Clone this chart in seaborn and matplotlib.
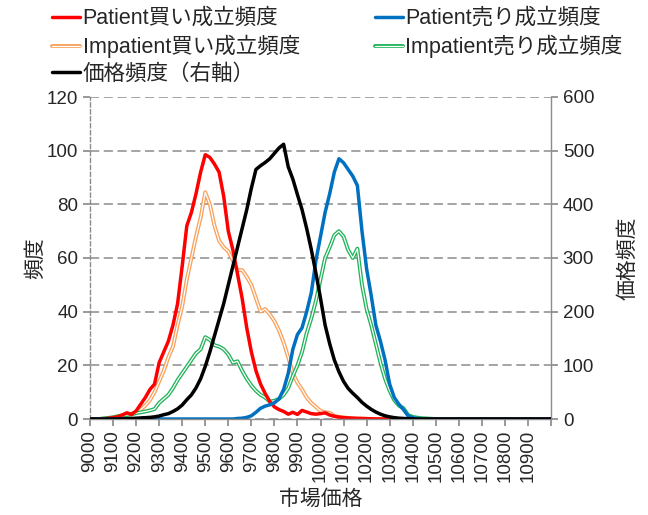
import numpy as np
import pandas as pd
import matplotlib
matplotlib.use("Agg")
import matplotlib.pyplot as plt
import matplotlib.patheffects as pe
import seaborn as sns

sns.set_theme(style="white")
plt.rcParams['font.family'] = ['Liberation Sans', 'Noto Sans CJK JP', 'DejaVu Sans']

# market price (x), step 20
price = list(range(9000, 11001, 20))

patient_buy = [0, 0, 0, 0, 0.3, 0.5, 0.8, 1.5, 2.3, 1.7,
               3, 5.5, 8, 11, 13, 21, 25, 29, 35, 43,
               57, 72, 77, 84, 92, 98.5, 97.5, 95, 92, 83,
               70, 63, 54, 45, 34, 25, 18, 13, 9.5, 6.5,
               4.5, 3.5, 2.8, 1.8, 2.5, 1.7, 3.2, 2.6, 2, 1.8,
               2, 2.3, 1.5, 1, 0.7, 0.5, 0.4, 0.3, 0.2, 0.2,
               0.1, 0.1, 0, 0, 0, 0, 0, 0, 0, 0,
               0, 0, 0, 0, 0, 0, 0, 0, 0, 0,
               0, 0, 0, 0, 0, 0, 0, 0, 0, 0,
               0, 0, 0, 0, 0, 0, 0, 0, 0, 0, 0]

impatient_buy = [0, 0, 0, 0.2, 0.4, 0.6, 1, 1.3, 1.5, 2,
                 2.5, 3.5, 5, 7, 10, 14, 18, 23, 27, 35,
                 42, 52, 60, 68, 75, 84.5, 80, 72, 66.5, 64,
                 62.5, 59, 55.5, 55.5, 53, 50, 45, 40, 41, 39,
                 36.5, 33, 28.5, 23, 17, 13.5, 11, 8, 6, 4.5,
                 3, 2.5, 2.3, 1.2, 0.8, 0.6, 0.4, 0.3, 0.2, 0.1,
                 0.1, 0, 0, 0, 0, 0, 0, 0, 0, 0,
                 0, 0, 0, 0, 0, 0, 0, 0, 0, 0,
                 0, 0, 0, 0, 0, 0, 0, 0, 0, 0,
                 0, 0, 0, 0, 0, 0, 0, 0, 0, 0, 0]

patient_sell = [0, 0, 0, 0, 0, 0, 0, 0, 0, 0,
                0, 0, 0, 0, 0, 0, 0, 0, 0, 0,
                0, 0, 0, 0, 0, 0, 0, 0, 0, 0,
                0, 0, 0.2, 0.3, 0.6, 1.2, 2.5, 4, 4.8, 5.3,
                6, 7.5, 11, 17, 26, 31.5, 34, 40, 47, 59,
                68, 77, 84, 92, 97, 95.5, 93, 90.5, 87, 70,
                56, 46, 35, 29, 22, 13, 8, 5.5, 3.5, 1.2,
                0.5, 0.2, 0, 0, 0, 0, 0, 0, 0, 0,
                0, 0, 0, 0, 0, 0, 0, 0, 0, 0,
                0, 0, 0, 0, 0, 0, 0, 0, 0, 0, 0]

impatient_sell = [0, 0, 0, 0.2, 0.4, 0.6, 1, 1.3, 1.5, 1.7,
                  2.2, 2.5, 2.8, 3.2, 3.7, 6, 7.5, 9, 11.5, 14.5,
                  17, 19.5, 22, 24.5, 26, 30.5, 29.5, 27.5, 27, 26,
                  24, 21, 21.5, 18, 15, 12.5, 10.5, 9, 8, 6.5,
                  6.8, 7.5, 9, 11.5, 16, 20, 25, 32, 37.5, 44,
                  52, 60, 64, 68.5, 70, 68, 63, 60, 63.5, 50,
                  41, 35, 28, 21, 15, 10.5, 7, 5, 4, 1.5,
                  0.8, 0.5, 0.3, 0.2, 0.1, 0, 0, 0, 0, 0,
                  0, 0, 0, 0, 0, 0, 0, 0, 0, 0,
                  0, 0, 0, 0, 0, 0, 0, 0, 0, 0, 0]

price_freq = [0, 0, 0, 0, 0, 0, 0, 0.3, 0.6, 1,
              1.5, 2, 2.5, 3, 4, 5.5, 8, 10, 14, 19,
              26, 36, 45, 58, 75, 98, 125, 155, 185, 215,
              250, 285, 320, 355, 390, 430, 465, 472, 478, 485,
              495, 505, 512, 470, 447, 418, 390, 355, 316, 272,
              225, 175, 140, 110, 88, 70, 57, 48, 40, 31,
              24, 18, 13, 9, 6, 4, 2.5, 1.5, 1, 0.5,
              0.3, 0, 0, 0, 0, 0, 0, 0, 0, 0,
              0, 0, 0, 0, 0, 0, 0, 0, 0, 0,
              0, 0, 0, 0, 0, 0, 0, 0, 0, 0, 0]

xticks = list(range(9000, 11001, 100))
xticklabels = [str(v) for v in range(9000, 11000, 100)] + [""]

labels = ["Patient買い成立頻度", "Patient売り成立頻度",
          "Impatient買い成立頻度", "Impatient売り成立頻度", "価格頻度（右軸）"]

df = pd.DataFrame({"price": price, "pb": patient_buy, "ps": patient_sell,
                   "ib": impatient_buy, "is": impatient_sell, "pf": price_freq})

fig = plt.figure(figsize=(6.48, 5.15), dpi=100)
ax = fig.add_axes([90/648, 1-419/515, (551-90)/648, (419-97)/515])
ax2 = ax.twinx()

FS = 13.5
LFS = 15
LEGFS = 15.5
grid_c = "#8c8c8c"
ORANGE = "#F8A15C"
GREEN = "#22B35A"

sns.lineplot(data=df, x="price", y="ib", ax=ax, color=ORANGE, lw=2.8,
             path_effects=[pe.Stroke(linewidth=2.8, foreground=ORANGE),
                           pe.Stroke(linewidth=0.9, foreground="white")], zorder=3)
sns.lineplot(data=df, x="price", y="is", ax=ax, color=GREEN, lw=2.8,
             path_effects=[pe.Stroke(linewidth=2.8, foreground=GREEN),
                           pe.Stroke(linewidth=0.9, foreground="white")], zorder=3)
sns.lineplot(data=df, x="price", y="pb", ax=ax, color="#FF0000", lw=2.5, zorder=4)
sns.lineplot(data=df, x="price", y="ps", ax=ax, color="#0070C0", lw=2.5, zorder=4)
sns.lineplot(data=df, x="price", y="pf", ax=ax2, color="#000000", lw=2.5, zorder=5)

ax.set_xlim(9000, 11000)
ax.set_ylim(0, 120)
ax2.set_ylim(0, 600)
ax.set_yticks(range(0, 121, 20))
ax2.set_yticks(range(0, 601, 100))
ax.set_xticks(xticks)
ax.set_xticklabels(xticklabels, rotation=90, fontsize=FS)
ax.tick_params(axis="y", labelsize=FS, length=5, direction="out", color=grid_c, left=True)
ax2.tick_params(axis="y", labelsize=FS, length=5, direction="out", color=grid_c, right=True)
ax.tick_params(axis="x", length=5, direction="out", color=grid_c, bottom=True, pad=3)

ax.yaxis.grid(True, linestyle=(0, (6, 3)), color=grid_c, lw=1.1)
ax.set_axisbelow(True)
for a in (ax, ax2):
    for s in ("top", "left", "right", "bottom"):
        a.spines[s].set_visible(False)
ax2.spines["right"].set_visible(True)
ax2.spines["right"].set_color(grid_c)
ax2.spines["right"].set_linewidth(1.0)
ax2.spines["left"].set_visible(True)
ax2.spines["left"].set_color(grid_c)
ax2.spines["left"].set_linestyle((0, (3, 2)))
ax2.spines["left"].set_linewidth(1.0)
ax2.spines["bottom"].set_visible(True)
ax2.spines["bottom"].set_color(grid_c)
ax2.spines["bottom"].set_linewidth(1.0)

ax.set_xlabel("市場価格", fontsize=LFS, labelpad=5)
ax.set_ylabel("頻度", fontsize=LFS, labelpad=1)
ax2.set_ylabel("価格頻度", fontsize=LFS, rotation=90, labelpad=17)

lines = ax.get_lines()
h_ib, h_is, h_pb, h_ps = lines[0], lines[1], lines[2], lines[3]
h_pf = ax2.get_lines()[0]
handles = [h_pb, h_ib, h_pf, h_ps, h_is]
leg_labels = [labels[0], labels[2], labels[4], labels[1], labels[3]]
fig.legend(handles, leg_labels, ncol=2, loc="upper left", bbox_to_anchor=(0.051, 1.022),
           frameon=False, fontsize=LEGFS, handlelength=1.3, handletextpad=0.1,
           columnspacing=3.5, labelspacing=0.27)

fig.savefig("out.png", dpi=100, facecolor="white")
